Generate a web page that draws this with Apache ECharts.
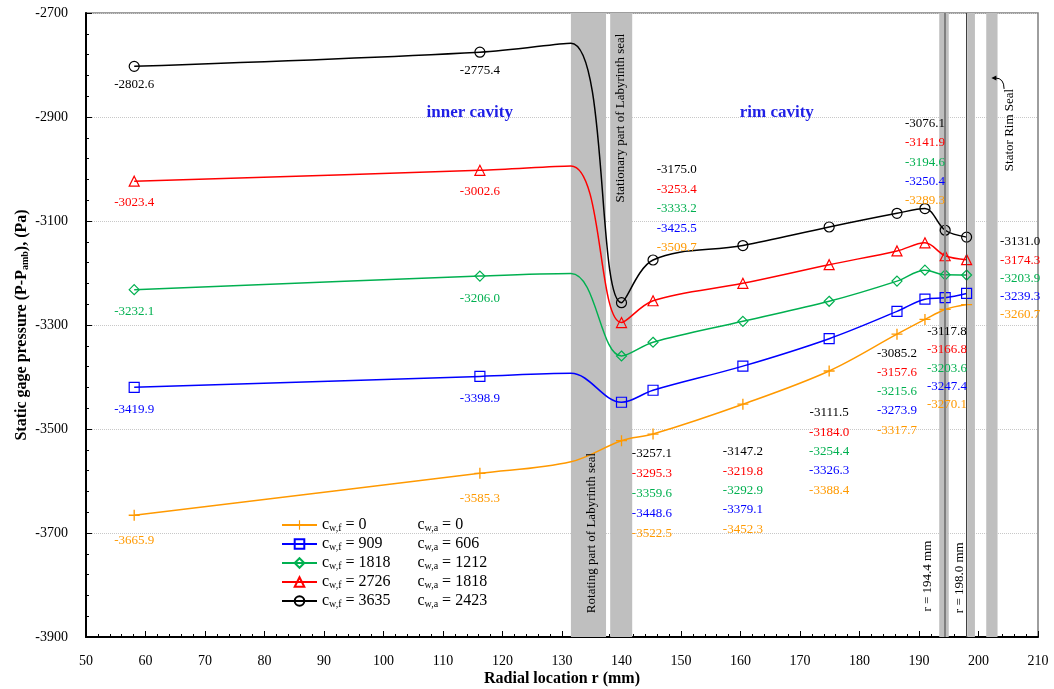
<!DOCTYPE html>
<html>
<head>
<meta charset="utf-8">
<script src="https://cdn.jsdelivr.net/npm/echarts@6/dist/echarts.min.js"></script>
<style>
  html, body { margin: 0; padding: 0; background: #fff; }
  #chart { width: 1054px; height: 689px; }
</style>
</head>
<body>
<div id="chart"></div>
<script>
// Radial stations (mm). Index 2 is the unmarked knot at the labyrinth-seal entry.
const radius = [58.1, 116.2, 131.5, 140.0, 145.3, 160.4, 174.9, 186.3, 191.0, 194.4, 198.0];
const knotIndex = 2;

// Static gage pressure P - P_amb (Pa), one array per flow case
const pCase0 = [-3665.9, -3585.3, -3563.0, -3522.5, -3509.7, -3452.3, -3388.4, -3317.7, -3289.3, -3270.1, -3260.7];
const pCase1 = [-3419.9, -3398.9, -3393.0, -3448.6, -3425.5, -3379.1, -3326.3, -3273.9, -3250.4, -3247.4, -3239.3];
const pCase2 = [-3232.1, -3206.0, -3201.0, -3359.6, -3333.2, -3292.9, -3254.4, -3215.6, -3194.6, -3203.6, -3203.9];
const pCase3 = [-3023.4, -3002.6, -2994.0, -3295.3, -3253.4, -3219.8, -3184.0, -3157.6, -3141.9, -3166.8, -3174.3];
const pCase4 = [-2802.6, -2775.4, -2758.0, -3257.1, -3175.0, -3147.2, -3111.5, -3085.2, -3076.1, -3117.8, -3131.0];

// Flow coefficients of each case
const cwf = ['0', '909', '1818', '2726', '3635'];
const cwa = ['0', '606', '1212', '1818', '2423'];

// Seal regions (mm) and reference radii
const sealBands = [[131.5, 137.4], [138.1, 141.8], [193.4, 195.0], [198.1, 199.4], [201.3, 203.2]];
const refRadii = [194.4, 198.0];

// ---- styling / layout ----
const serif = '"Liberation Serif", "DejaVu Serif", serif';
const colors = ['#FF9900', '#0000FF', '#00B050', '#FF0000', '#000000'];
const plusPath = 'path://M4.4,0H5.6V4.4H10V5.6H5.6V10H4.4V5.6H0V4.4H4.4Z';
const symbols = [plusPath, 'rect', 'diamond', 'triangle', 'circle'];
const symbolSizes = [11, 10, 10, 10, 10];
const pressure = [pCase0, pCase1, pCase2, pCase3, pCase4];
const names = pressure.map((_, i) => 'case ' + i);
const stackOrder = [4, 3, 2, 1, 0];

// value label columns: anchor (r, p) of the top label, row gap in px
const labelColumns = [
  { idx: 3, r: 145.1, p: -3548, gap: 19.8 },
  { idx: 4, r: 149.3, p: -3002, gap: 19.5 },
  { idx: 5, r: 160.4, p: -3544, gap: 19.3 },
  { idx: 6, r: 174.9, p: -3469, gap: 19.3 },
  { idx: 7, r: 186.3, p: -3354, gap: 19.3 },
  { idx: 8, r: 191.0, p: -2913, gap: 19.3 },
  { idx: 9, r: 194.7, p: -3313, gap: 18.2 },
  { idx: 10, r: 207.0, p: -3140, gap: 18.3 }
];
// px below the point for the labels of the first two stations
const belowOffsets = [25, 22, 22, 21, 18];

const chart = echarts.init(document.getElementById('chart'), null, { renderer: 'canvas' });

const series = [{
  type: 'line',
  name: 'seal regions',
  data: [],
  silent: true,
  z: 1,
  markArea: {
    silent: true,
    itemStyle: { color: '#BFBFBF' },
    data: sealBands.map(b => [{ xAxis: b[0] }, { xAxis: b[1] }])
  },
  markLine: {
    silent: true,
    symbol: 'none',
    label: { show: false },
    data: [
      { xAxis: refRadii[0], lineStyle: { color: '#7F7F7F', width: 2, type: 'solid' } },
      { xAxis: refRadii[1], lineStyle: { color: '#404040', width: 1, type: 'solid' } }
    ]
  }
}];

pressure.forEach((vals, i) => {
  series.push({
    type: 'line',
    name: names[i],
    z: 3,
    smooth: 0.35,
    symbol: symbols[i],
    symbolSize: symbolSizes[i],
    showAllSymbol: true,
    lineStyle: { color: colors[i], width: 1.5 },
    itemStyle: i === 0
      ? { color: colors[i], borderWidth: 0 }
      : { color: 'rgba(255,255,255,0)', borderColor: colors[i], borderWidth: 1.2 },
    data: radius.map((r, k) => k === knotIndex
      ? { value: [r, vals[k]], symbol: 'none' }
      : [r, vals[k]])
  });
});

const option = {
  animation: false,
  backgroundColor: '#fff',
  grid: {
    left: 86, right: 16, top: 13, bottom: 52,
    outerBoundsMode: 'none',
    show: true, borderColor: '#7F7F7F', borderWidth: 1.5
  },
  legend: {
    left: 276, top: 512,
    orient: 'vertical',
    itemWidth: 35, itemHeight: 12, itemGap: 3,
    data: names,
    formatter: name => {
      const i = names.indexOf(name);
      return '{c|c}{s|w,f}{v| = ' + cwf[i] + '}{c|c}{s|w,a}{w| = ' + cwa[i] + '}';
    },
    textStyle: {
      fontFamily: serif, fontSize: 15, color: '#000',
      rich: {
        c: { fontFamily: serif, fontSize: 16, lineHeight: 16 },
        s: { fontFamily: serif, fontSize: 10, lineHeight: 10, verticalAlign: 'bottom' },
        v: { fontFamily: serif, fontSize: 16, lineHeight: 16, width: 76 },
        w: { fontFamily: serif, fontSize: 16, lineHeight: 16 }
      }
    }
  },
  xAxis: {
    type: 'value', min: 50, max: 210, interval: 10,
    name: 'Radial location r (mm)',
    nameLocation: 'middle', nameGap: 34, nameMoveOverlap: false,
    nameTextStyle: { fontFamily: serif, fontWeight: 'bold', fontSize: 16, color: '#000' },
    axisLine: { show: true, onZero: false, lineStyle: { color: '#000', width: 2 } },
    axisTick: { inside: true, length: 6, lineStyle: { color: '#000' } },
    minorTick: { show: true, splitNumber: 5, length: 3, lineStyle: { color: '#000' } },
    axisLabel: { fontFamily: serif, fontSize: 14, color: '#000', margin: 17 },
    splitLine: { show: false }
  },
  yAxis: {
    type: 'value', min: -3900, max: -2700, interval: 200,
    name: '{b|Static gage pressure (P-P}{s|amb}{b|), (Pa)}',
    nameLocation: 'middle', nameGap: 56, nameRotate: 90, nameMoveOverlap: false,
    nameTextStyle: {
      color: '#000',
      rich: {
        b: { fontFamily: serif, fontWeight: 'bold', fontSize: 16, lineHeight: 17 },
        s: { fontFamily: serif, fontWeight: 'bold', fontSize: 10, lineHeight: 10, verticalAlign: 'bottom' }
      }
    },
    axisLine: { show: true, onZero: false, lineStyle: { color: '#000', width: 2 } },
    axisTick: { inside: true, length: 6, lineStyle: { color: '#000' } },
    minorTick: { show: true, splitNumber: 5, length: 3, lineStyle: { color: '#000' } },
    axisLabel: { fontFamily: serif, fontSize: 14, color: '#000', margin: 18, formatter: v => String(v) },
    splitLine: { show: true, lineStyle: { color: '#C8C8C8', type: 'dotted', width: 1 } }
  },
  series: series
};

chart.setOption(option);

// ---- annotations placed in data coordinates ----
const px = (r, p) => chart.convertToPixel({ gridIndex: 0 }, [r, p]);
const fmt = v => v.toFixed(1);
const graphics = [];

function addText(r, p, text, opts) {
  const [x, y] = px(r, p);
  graphics.push({
    type: 'text', x: x, y: y, rotation: opts.rotation || 0, z: 50, silent: true,
    style: {
      text: text, fill: opts.color || '#000',
      font: (opts.weight || 'normal') + ' ' + (opts.size || 13) + 'px ' + serif,
      align: 'center', verticalAlign: 'middle'
    }
  });
}

// labels under the first two stations
[0, 1].forEach(k => {
  pressure.forEach((vals, i) => {
    const [x, y] = px(radius[k], vals[k]);
    graphics.push({
      type: 'text', x: x, y: y + belowOffsets[i], z: 50, silent: true,
      style: { text: fmt(vals[k]), fill: colors[i], font: '13px ' + serif, align: 'center', verticalAlign: 'middle' }
    });
  });
});

// stacked label columns
labelColumns.forEach(col => {
  const [x, y] = px(col.r, col.p);
  stackOrder.forEach((si, j) => {
    graphics.push({
      type: 'text', x: x, y: y + j * col.gap, z: 50, silent: true,
      style: { text: fmt(pressure[si][col.idx]), fill: colors[si], font: '13px ' + serif, align: 'center', verticalAlign: 'middle' }
    });
  });
});

addText(114.5, -2892, 'inner cavity', { color: '#1F1FE6', weight: 'bold', size: 17 });
addText(166.1, -2892, 'rim cavity', { color: '#1F1FE6', weight: 'bold', size: 17 });
addText(135.0, -3700, 'Rotating part of Labyrinth seal', { rotation: Math.PI / 2 });
addText(139.9, -2902, 'Stationary part of Labyrinth seal', { rotation: Math.PI / 2 });
addText(191.5, -3783, 'r = 194.4 mm', { rotation: Math.PI / 2 });
addText(196.9, -3786, 'r = 198.0 mm', { rotation: Math.PI / 2 });
addText(205.3, -2925, 'Stator Rim Seal', { rotation: Math.PI / 2 });

// curved pointer to the stator rim seal band
const a0 = px(204.3, -2846);
const a1 = px(204.3, -2825);
const a2 = px(202.5, -2825);
graphics.push({
  type: 'bezierCurve', z: 50, silent: true,
  shape: { x1: a0[0], y1: a0[1], cpx1: a1[0], cpy1: a1[1], x2: a2[0] + 2, y2: a2[1] },
  style: { stroke: '#000', lineWidth: 1, fill: null }
});
graphics.push({
  type: 'polygon', z: 50, silent: true,
  shape: { points: [[a2[0] - 2, a2[1]], [a2[0] + 3, a2[1] - 2.5], [a2[0] + 3, a2[1] + 2.5]] },
  style: { fill: '#000' }
});

chart.setOption({ graphic: graphics });
</script>
</body>
</html>
